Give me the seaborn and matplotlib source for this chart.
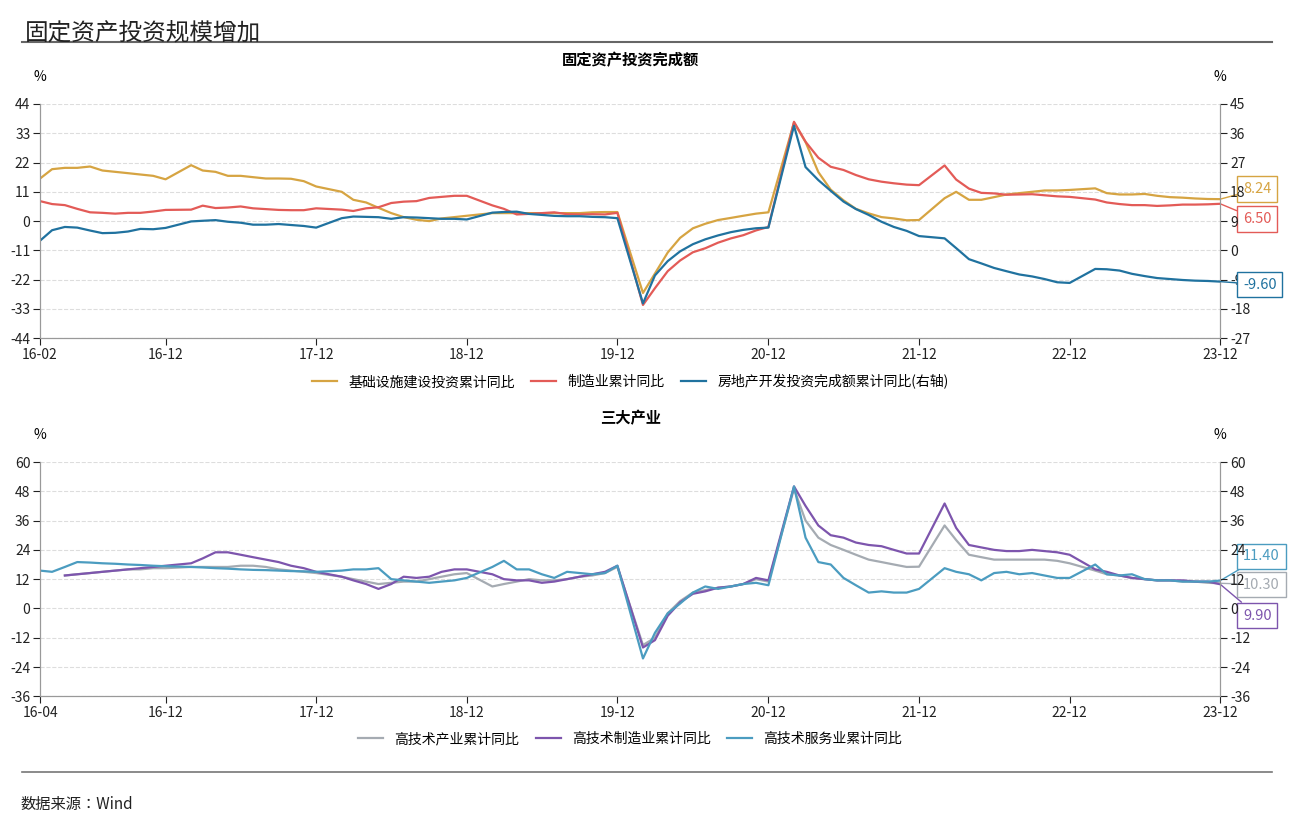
import numpy as np
import pandas as pd
import matplotlib
matplotlib.use("Agg")
import matplotlib.pyplot as plt
import seaborn as sns

plt.rcParams["font.family"] = "sans-serif"
plt.rcParams["font.sans-serif"] = ["Noto Sans CJK SC", "Noto Sans CJK JP", "Noto Sans CJK TC",
                                   "Noto Sans CJK KR", "DejaVu Sans"]
plt.rcParams["axes.unicode_minus"] = False

# monthly points Feb..Dec for 2016..2023 (no January release)
dates = [pd.Timestamp(y, m, 1) for y in range(2016, 2024) for m in range(2, 13)]

infra = [16, 19.5, 20, 20, 20.5, 19, 18.5, 18, 17.5, 17, 15.7,
         21, 19, 18.5, 17, 17, 16.5, 16, 16, 15.9, 15, 13,
         11, 8, 7, 5, 3, 1.5, 0.5, 0, 1, 1.5, 2,
         3, 3, 3, 3, 3, 3, 3, 3, 3.3, 3.4, 3.4,
         -27, -19.7, -11.8, -6.3, -2.7, -1, 0.4, 1.2, 2, 2.8, 3.3,
         37, 29.7, 18.4, 11.8, 7.8, 4.6, 2.9, 1.5, 1, 0.3, 0.4,
         8.6, 11, 8, 8, 9, 10, 10.5, 11, 11.5, 11.5, 11.7,
         12.3, 10.5, 10, 10, 10.2, 9.5, 9, 8.8, 8.5, 8.3, 8.24]
manuf = [7.5, 6.4, 6, 4.6, 3.3, 3.1, 2.8, 3.1, 3.1, 3.6, 4.2,
         4.3, 5.8, 4.9, 5.1, 5.5, 4.8, 4.5, 4.2, 4.1, 4.1, 4.8,
         4.3, 3.8, 4.8, 5.2, 6.8, 7.3, 7.5, 8.7, 9.1, 9.5, 9.5,
         5.9, 4.6, 2.5, 2.7, 3.0, 3.3, 2.6, 2.5, 2.6, 2.5, 3.1,
         -31.5, -25.2, -18.8, -14.8, -11.7, -10.2, -8.1, -6.5, -5.3, -3.5, -2.2,
         37.3, 29.8, 23.8, 20.4, 19.2, 17.3, 15.7, 14.8, 14.2, 13.7, 13.5,
         20.9, 15.6, 12.2, 10.6, 10.4, 9.9, 10.0, 10.1, 9.7, 9.3, 9.1,
         8.1, 7.0, 6.4, 6.0, 6.0, 5.7, 5.9, 6.2, 6.2, 6.3, 6.5]
estate = [3.0, 6.2, 7.2, 7.0, 6.1, 5.3, 5.4, 5.8, 6.6, 6.5, 6.9,
          8.9, 9.1, 9.3, 8.8, 8.5, 7.9, 7.9, 8.1, 7.8, 7.5, 7.0,
          9.9, 10.4, 10.3, 10.2, 9.7, 10.2, 10.1, 9.9, 9.7, 9.7, 9.5,
          11.6, 11.8, 11.9, 11.2, 10.9, 10.6, 10.5, 10.5, 10.3, 10.2, 9.9,
          -16.3, -7.7, -3.3, -0.3, 1.9, 3.4, 4.6, 5.6, 6.3, 6.8, 7.0,
          38.3, 25.6, 21.6, 18.3, 15.0, 12.7, 10.9, 8.8, 7.2, 6.0, 4.4,
          3.7, 0.7, -2.7, -4.0, -5.4, -6.4, -7.4, -8.0, -8.8, -9.8, -10.0,
          -5.7, -5.8, -6.2, -7.2, -7.9, -8.5, -8.8, -9.1, -9.3, -9.4, -9.6]

hitech = [np.nan, np.nan, 13.5, 14, 14.5, 15, 15.5, 16, 16, 16.5, 16.5,
          17, 17, 17, 17, 17.5, 17.5, 17, 16, 15.5, 15, 14.5,
          13, 12, 11, 10, 10.5, 11, 11, 12, 13, 14, 14.5,
          9, 10, 11, 12, 11.5, 11.5, 12, 13, 13.5, 14.5, 17,
          -15, -12, -2, 3, 6.5, 7.5, 8.5, 9, 10, 12, 11,
          49, 36, 29, 26, 24, 22, 20, 19, 18, 17, 17.1,
          34, 28, 22, 21, 20, 20, 20, 20, 20, 19.5, 18.5,
          15.5, 14, 13.5, 12.5, 12, 11.5, 11.5, 11, 11, 10.5, 10.3]
hitech_mfg = [np.nan, np.nan, 13.5, 14, 14.5, 15, 15.5, 16, 16.5, 17, 17.5,
              18.5, 20.5, 23, 23, 22, 21, 20, 19, 17.5, 16.5, 15,
              13, 11.5, 10, 8, 10, 13, 12.5, 13, 15, 16, 16,
              14, 12, 11.5, 11.5, 10.5, 11, 12, 13, 14, 15, 17.5,
              -16, -13, -3, 2.5, 6, 7, 8.5, 9, 10, 12.5, 11.5,
              50, 42, 34, 30, 29, 27, 26, 25.5, 24, 22.5, 22.5,
              43, 33, 26, 25, 24, 23.5, 23.5, 24, 23.5, 23, 22,
              16, 15, 13.5, 12.5, 12, 11.5, 11.5, 11.5, 11, 11, 9.9]
hitech_srv = [15.5, 15, 17, 19, 18.8, 18.5, 18.3, 18, 17.8, 17.5, 17.3,
              17, 16.8, 16.5, 16.3, 16, 15.8, 15.7, 15.5, 15.3, 15.2, 15,
              15.5, 16, 16, 16.5, 12, 11.5, 11, 10.5, 11, 11.5, 12.5,
              17, 19.5, 16, 16, 14, 12.5, 15, 14.5, 14, 14.5, 17.5,
              -20.5, -10, -2, 2, 6.5, 9, 8, 9, 10, 10.5, 9.5,
              50, 29, 19, 18, 12.5, 9.5, 6.5, 7, 6.5, 6.5, 8,
              16.5, 15, 14, 11.5, 14.5, 15, 14, 14.5, 13.5, 12.5, 12.5,
              18, 14, 13.5, 14, 12, 11.5, 11.5, 11, 11, 11, 11.4]

tick_dates = [pd.Timestamp(2016, 2, 1)] + [pd.Timestamp(y, 12, 1) for y in range(2016, 2024)]
top_ticks = ["16-02"] + [f"{y % 100}-12" for y in range(2016, 2024)]
bot_ticks = ["16-04"] + top_ticks[1:]

GOLD, RED, BLUE = "#d6a442", "#e35b57", "#20729f"
GRAY, PURPLE, LBLUE = "#a5abb2", "#7d55ad", "#4b9cc0"

top = pd.DataFrame({"date": dates, "infra": infra, "manuf": manuf, "estate": estate})
bot = pd.DataFrame({"date": dates, "hitech": hitech, "mfg": hitech_mfg, "srv": hitech_srv})

fig = plt.figure(figsize=(12.94, 8.25), dpi=100)
fig.text(0.019, 0.952, "固定资产投资规模增加", fontsize=17, color="#222")
fig.add_artist(plt.Line2D([0.017, 0.983], [0.949, 0.949], color="#666", lw=1.5))
fig.add_artist(plt.Line2D([0.017, 0.983], [0.064, 0.064], color="#777", lw=1.2))
fig.text(0.016, 0.02, "数据来源：Wind", fontsize=11, color="#222")


def style(ax, yticks):
    ax.set_ylim(yticks[0], yticks[-1])
    ax.set_yticks(yticks)
    ax.set_xlim(dates[0], dates[-1])
    ax.set_xticks(tick_dates)
    ax.set_xlabel("")
    ax.set_ylabel("")
    ax.spines["top"].set_visible(False)
    for s in ["left", "right", "bottom"]:
        ax.spines[s].set_color("#999")
    ax.tick_params(labelsize=10, colors="#222", length=5, pad=2)


def tag(ax, x, y, ybox, text, color):
    xb = x + pd.Timedelta(days=55)
    ax.annotate(text, xy=(x, y), xytext=(xb, ybox), textcoords="data",
                fontsize=10.5, color=color, va="center", ha="left",
                annotation_clip=False, zorder=10,
                bbox=dict(boxstyle="square,pad=0.4", fc="white", ec=color, lw=1),
                arrowprops=dict(arrowstyle="-", color=color, lw=1, shrinkA=0, shrinkB=0))


L, W = 0.031, 0.912

# top chart
ax1 = fig.add_axes([L, 0.590, W, 0.284])
ax1r = ax1.twinx()
sns.lineplot(data=top, x="date", y="infra", ax=ax1, color=GOLD, lw=1.6, label="基础设施建设投资累计同比", legend=False)
sns.lineplot(data=top, x="date", y="manuf", ax=ax1, color=RED, lw=1.6, label="制造业累计同比", legend=False)
sns.lineplot(data=top, x="date", y="estate", ax=ax1r, color=BLUE, lw=1.6, label="房地产开发投资完成额累计同比(右轴)", legend=False)
style(ax1, np.arange(-44, 45, 11))
style(ax1r, np.arange(-27, 46, 9))
ax1.grid(axis="y", ls="--", color="#ddd", lw=0.8)
ax1.set_xticklabels(top_ticks)
ax1.set_title("固定资产投资完成额", fontsize=11, fontweight="bold", pad=28)
ax1.text(0, 1.1, "%", transform=ax1.transAxes, ha="center", fontsize=10)
ax1.text(1, 1.1, "%", transform=ax1.transAxes, ha="center", fontsize=10)
tag(ax1, dates[-1], infra[-1], 12, "8.24", GOLD)
tag(ax1, dates[-1], manuf[-1], 0.7, "6.50", RED)
tag(ax1r, dates[-1], estate[-1], -10.5, "-9.60", BLUE)
h1, l1 = ax1.get_legend_handles_labels()
h2, l2 = ax1r.get_legend_handles_labels()
ax1.legend(h1 + h2, l1 + l2, loc="upper center", bbox_to_anchor=(0.5, -0.1), ncol=3,
           frameon=False, fontsize=10, handlelength=1.8, columnspacing=1.2)

# bottom chart
ax2 = fig.add_axes([L, 0.156, W, 0.284])
ax2r = ax2.twinx()
sns.lineplot(data=bot, x="date", y="hitech", ax=ax2, color=GRAY, lw=1.6, label="高技术产业累计同比", legend=False)
sns.lineplot(data=bot, x="date", y="mfg", ax=ax2, color=PURPLE, lw=1.6, label="高技术制造业累计同比", legend=False)
sns.lineplot(data=bot, x="date", y="srv", ax=ax2, color=LBLUE, lw=1.6, label="高技术服务业累计同比", legend=False)
style(ax2, np.arange(-36, 61, 12))
style(ax2r, np.arange(-36, 61, 12))
ax2.grid(axis="y", ls="--", color="#ddd", lw=0.8)
ax2.set_xticklabels(bot_ticks)
ax2.set_title("三大产业", fontsize=11, fontweight="bold", pad=28)
ax2.text(0, 1.1, "%", transform=ax2.transAxes, ha="center", fontsize=10)
ax2.text(1, 1.1, "%", transform=ax2.transAxes, ha="center", fontsize=10)
tag(ax2, dates[-1], hitech_srv[-1], 21.3, "11.40", LBLUE)
tag(ax2, dates[-1], hitech[-1], 9.8, "10.30", GRAY)
tag(ax2, dates[-1], hitech_mfg[-1], -2.9, "9.90", PURPLE)
ax2.legend(loc="upper center", bbox_to_anchor=(0.5, -0.1), ncol=3,
           frameon=False, fontsize=10, handlelength=1.8, columnspacing=1.2)

fig.savefig("out.png", dpi=100)
